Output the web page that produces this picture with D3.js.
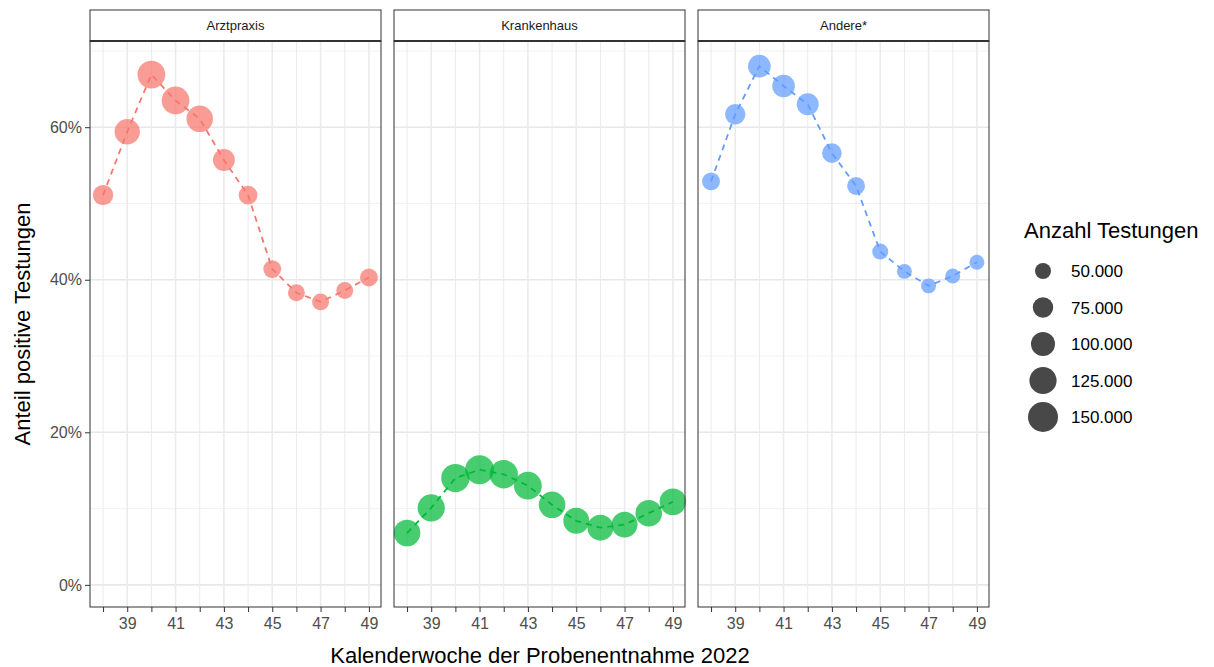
<!DOCTYPE html>
<html><head><meta charset="utf-8">
<script src="https://cdn.jsdelivr.net/npm/d3@7"></script>
<style>body{margin:0;background:#fff;font-family:"Liberation Sans",Arial,sans-serif}</style>
</head><body><svg id="c" width="1214" height="667"></svg>
<script>
var weeks = [38,39,40,41,42,43,44,45,46,47,48,49];
var panels = ["Arztpraxis","Krankenhaus","Andere*"];
var colors = ["#F8766D","#00BA38","#619CFF"];
var arztShare = [51.1,59.4,66.9,63.5,61.1,55.7,51.1,41.4,38.3,37.1,38.6,40.3];
var krankShare = [6.8,10.1,14.0,15.1,14.5,13.0,10.5,8.4,7.5,7.9,9.4,10.9];
var andereShare = [52.9,61.7,68.0,65.4,63.0,56.6,52.3,43.7,41.1,39.2,40.5,42.3];
var arztN = [75000,110000,130000,130000,120000,85000,65000,60000,55000,55000,55000,60000];
var krankN = [120000,125000,135000,140000,135000,130000,120000,115000,115000,115000,120000,120000];
var andereN = [60000,75000,90000,90000,85000,70000,60000,50000,45000,45000,45000,45000];
var legendN = [50000,75000,100000,125000,150000];
var yTicks = [0,20,40,60];
var xTicks = [39,41,43,45,47,49];

var shares = [arztShare, krankShare, andereShare];
var counts = [arztN, krankN, andereN];
var svg = d3.select("#c");
var fmt = function(v){ return d3.format(",")(v).replace(/,/g,"."); };

var y = d3.scaleLinear().domain([-2.9,71.3]).range([607,41]);
var area = d3.scaleLinear().domain([50000,150000]).range([64,225]);
var r = function(v){ return Math.sqrt(Math.max(4, area(v))); };
var lefts = [90,394,698], pw = 291;

panels.forEach(function(name,i){
  var x = d3.scaleLinear().domain([37.46,49.5]).range([lefts[i], lefts[i]+pw]);
  var g = svg.append("g");
  [10,30,50,70].forEach(function(t){ g.append("line").attr("x1",lefts[i]).attr("x2",lefts[i]+pw).attr("y1",y(t)).attr("y2",y(t)).attr("stroke","#f2f2f2").attr("stroke-width",1); });
  yTicks.forEach(function(t){ g.append("line").attr("x1",lefts[i]).attr("x2",lefts[i]+pw).attr("y1",y(t)).attr("y2",y(t)).attr("stroke","#e8e8e8").attr("stroke-width",1.6); });
  weeks.forEach(function(w){ g.append("line").attr("x1",x(w)).attr("x2",x(w)).attr("y1",41).attr("y2",607).attr("stroke","#ebebeb").attr("stroke-width", w%2 ? 1.6 : 1); });
  var line = d3.line().x(function(d,j){return x(weeks[j]);}).y(function(d){return y(d);});
  g.append("path").datum(shares[i]).attr("d",line).attr("fill","none").attr("stroke",colors[i]).attr("stroke-width",1.8).attr("stroke-dasharray","6,5");
  g.selectAll("circle.p").data(shares[i]).enter().append("circle")
    .attr("cx",function(d,j){return x(weeks[j]);}).attr("cy",function(d){return y(d);})
    .attr("r",function(d,j){return r(counts[i][j]);})
    .attr("fill",colors[i]).attr("fill-opacity",0.72);
  g.append("rect").attr("x",lefts[i]).attr("y",41).attr("width",pw).attr("height",566).attr("fill","none").attr("stroke","#333").attr("stroke-width",1);
  g.append("rect").attr("x",lefts[i]).attr("y",10).attr("width",pw).attr("height",31).attr("fill","#fff").attr("stroke","#333").attr("stroke-width",1);
  g.append("line").attr("x1",lefts[i]).attr("x2",lefts[i]+pw).attr("y1",41).attr("y2",41).attr("stroke","#333").attr("stroke-width",2);
  g.append("text").attr("x",lefts[i]+pw/2).attr("y",30).attr("text-anchor","middle").attr("font-size",13).attr("fill","#1a1a1a").text(name);
  var ax = svg.append("g").attr("transform","translate(0,607)").call(d3.axisBottom(x).tickValues(weeks).tickSize(5).tickFormat(function(d){return xTicks.indexOf(d)>=0 ? d : "";}));
  ax.select(".domain").remove();
  ax.selectAll("line").attr("stroke","#333");
  ax.selectAll("text").attr("font-size",16).attr("fill","#4d4d4d").attr("dy","0.85em").attr("font-family","Liberation Sans, Arial");
});
var ay = svg.append("g").attr("transform","translate(90,0)").call(d3.axisLeft(y).tickValues(yTicks).tickSize(5).tickFormat(function(d){return d+"%";}));
ay.select(".domain").remove();
ay.selectAll("line").attr("stroke","#333");
ay.selectAll("text").attr("font-size",16).attr("fill","#4d4d4d").attr("font-family","Liberation Sans, Arial");

svg.append("text").attr("transform","translate(30,324) rotate(-90)").attr("text-anchor","middle").attr("font-size",22).text("Anteil positive Testungen");
svg.append("text").attr("x",540).attr("y",663).attr("text-anchor","middle").attr("font-size",22).text("Kalenderwoche der Probenentnahme 2022");

svg.append("text").attr("x",1024).attr("y",238).attr("font-size",22).text("Anzahl Testungen");
legendN.forEach(function(v,k){
  var cy = 271 + k*36.5;
  svg.append("circle").attr("cx",1043).attr("cy",cy).attr("r",r(v)).attr("fill","#1a1a1a").attr("fill-opacity",0.8);
  svg.append("text").attr("x",1071).attr("y",cy+6).attr("font-size",17).text(fmt(v));
});
</script></body></html>
